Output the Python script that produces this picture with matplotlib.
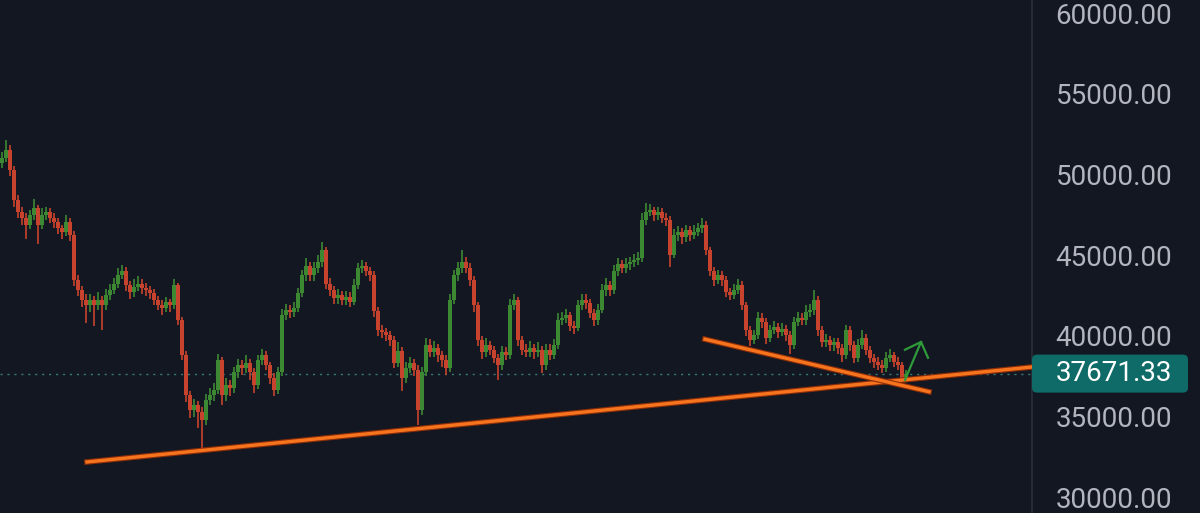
# BTC 4h chart with trendlines, dark theme
import matplotlib.pyplot as plt
import matplotlib.patheffects as pe
from matplotlib.patches import FancyBboxPatch

# candle data (open of each candle = previous close)
first_open = 50700
closes = [
    51000, 51500, 50300, 48400, 47700, 47300, 46900, 47500, 47900, 46900,
    47500, 47700, 47300, 47050, 46700, 46450, 47050, 46250, 43450, 42850,
    42250, 41900, 42250, 41900, 42250, 41900, 42550, 42850, 43250, 43750,
    44050, 43150, 42700, 43050, 43250, 42950, 42850, 42650, 42250, 41900,
    41750, 42100, 41900, 43150, 41000, 38800, 36350, 35400, 35700, 35300,
    34800, 36050, 36350, 36650, 38500, 36350, 36950, 36800, 37750, 38200,
    38000, 38350, 37750, 36950, 38500, 38800, 38200, 37400, 36650, 37750,
    41300, 41600, 41500, 41750, 42650, 43750, 44350, 43750, 44200, 44600,
    45300, 43250, 42850, 42350, 42550, 42250, 42400, 42100, 43150, 44200,
    44350, 44050, 43750, 41550, 40350, 40250, 40050, 39750, 38350, 39100,
    37400, 38000, 38350, 37900, 35400, 37750, 39450, 39000, 39250, 38800,
    38500, 38000, 42250, 43750, 44200, 44600, 44200, 43450, 41900, 39750,
    39000, 39450, 39150, 38650, 38200, 39000, 38850, 41900, 42250, 39750,
    39150, 39000, 39250, 39000, 39150, 38200, 39150, 38850, 39450, 41000,
    41100, 41300, 40650, 40500, 41900, 42250, 42050, 41450, 41000, 41600,
    42850, 43150, 42850, 44000, 44450, 44200, 44450, 44600, 44700, 44850,
    47200, 47700, 47800, 47500, 47650, 47300, 47200, 45000, 46250, 46450,
    46100, 46550, 46250, 46450, 46700, 46900, 45300, 44000, 43450, 43750,
    43450, 42700, 42550, 42850, 43150, 41900, 40350, 39750, 40050, 41100,
    40850, 39850, 40350, 40550, 40250, 40450, 40050, 39450, 40850, 41100,
    41000, 41500, 41600, 42250, 40350, 39600, 39750, 39450, 39600, 39250,
    38800, 40350, 39450, 38650, 39450, 39900, 39150, 38650, 38400, 38200,
    38000, 38650, 38800, 38400, 38200, 37400, 37671.33]
highs = [
    51400, 52150, 51800, 50500, 48700, 48000, 47600, 47800, 48500, 48100,
    47900, 48000, 47900, 47600, 47300, 46900, 47500, 47300, 46500, 43800,
    43100, 42600, 42600, 42500, 42700, 42500, 42900, 43200, 43600, 44200,
    44400, 44300, 43400, 43500, 43700, 43500, 43300, 43100, 42900, 42500,
    42200, 42400, 42300, 43500, 43300, 41200, 39100, 36600, 36100, 36000,
    35600, 36400, 36800, 37100, 38900, 38700, 37400, 37300, 38100, 38600,
    38500, 38800, 38600, 38000, 38800, 39200, 39100, 38400, 37700, 38100,
    41700, 42000, 41900, 42100, 43000, 44100, 44800, 44600, 44600, 45000,
    45800, 45500, 43600, 43100, 42900, 42800, 42800, 42700, 43500, 44500,
    44700, 44600, 44300, 44000, 41800, 40700, 40500, 40300, 40000, 39600,
    39300, 38400, 38700, 38600, 38200, 38100, 39900, 39800, 39700, 39500,
    39100, 38800, 42600, 44100, 44600, 45300, 44900, 44500, 43700, 42100,
    40000, 39900, 39700, 39400, 38900, 39400, 39300, 42300, 42600, 42400,
    40000, 39500, 39700, 39500, 39600, 39400, 39500, 39500, 39800, 41400,
    41500, 41700, 41500, 40900, 42200, 42600, 42600, 42300, 41700, 42000,
    43200, 43600, 43400, 44400, 44800, 44700, 44800, 44900, 45100, 45200,
    47600, 48250, 48200, 48000, 48000, 47900, 47600, 47400, 46600, 46800,
    46700, 46900, 46800, 46900, 47000, 47300, 47100, 45500, 44300, 44100,
    44000, 43700, 43000, 43200, 43500, 43400, 42100, 40600, 40400, 41500,
    41400, 41100, 40700, 40900, 40800, 40800, 40700, 40300, 41200, 41500,
    41400, 41900, 42000, 42850, 42500, 40600, 40100, 40000, 39900, 39900,
    39500, 40700, 40600, 39700, 39800, 40400, 40100, 39400, 38900, 38700,
    38500, 39000, 39200, 39000, 38700, 38400, 37900]
lows = [
    50400, 50800, 49900, 48000, 47300, 46900, 46000, 46600, 47200, 45700,
    46600, 47200, 47000, 46700, 46300, 46000, 46200, 45900, 43100, 42500,
    41800, 40800, 41500, 40600, 41600, 40400, 41600, 42200, 42600, 43000,
    43500, 42800, 42300, 42400, 42800, 42600, 42500, 42300, 41900, 41600,
    41300, 41500, 41500, 41700, 40700, 38500, 35900, 34900, 35000, 34300,
    33000, 34500, 35700, 36000, 36400, 35700, 36000, 36300, 36500, 37400,
    37600, 37700, 37300, 36500, 36700, 38200, 37900, 37000, 36300, 36400,
    37500, 41000, 41100, 41200, 41500, 42400, 43400, 43400, 43400, 43900,
    44300, 42900, 42500, 42000, 42000, 41900, 41900, 41800, 41900, 42900,
    43900, 43700, 43400, 41200, 40000, 39900, 39700, 39400, 38000, 38100,
    36600, 37100, 37700, 37500, 34500, 35100, 37500, 38700, 38700, 38400,
    38100, 37600, 37800, 42000, 43400, 43900, 43900, 43100, 41500, 39400,
    38600, 38700, 38800, 38300, 37300, 37900, 38500, 38600, 41600, 39400,
    38800, 38700, 38700, 38600, 38700, 37700, 37900, 38500, 38600, 39200,
    40700, 40800, 40300, 40100, 40300, 41600, 41700, 41100, 40600, 40700,
    41400, 42500, 42500, 42600, 43700, 43900, 43900, 44100, 44300, 44400,
    44600, 46900, 47400, 47100, 47200, 47000, 46800, 44300, 44800, 45900,
    45700, 45800, 45900, 46000, 46200, 46400, 45000, 43700, 43100, 43200,
    43100, 42400, 42200, 42300, 42600, 41600, 40000, 39400, 39500, 39800,
    40500, 39500, 39600, 40100, 39900, 40000, 39700, 38900, 39200, 40600,
    40700, 40700, 41200, 41300, 40000, 39300, 39300, 39100, 39100, 38900,
    38400, 38600, 39100, 38300, 38400, 39200, 38800, 38300, 38000, 37900,
    37700, 37800, 38400, 38100, 37900, 37200, 37200]

last_price = 37671.33
yticks = [30000, 35000, 40000, 45000, 50000, 55000, 60000]

# trendlines (candle index, price)
trend1_x = [21.25, 257.5]
trend1_y = [32200, 38080]
trend2_x = [175.75, 231.75]
trend2_y = [39800, 36550]
# hand drawn arrow: shaft + two head strokes
arrow_x = [225.75, 229.75]
arrow_y = [37275, 39630]
head_x = [225.75, 229.75, 231.5]
head_y = [39150, 39630, 38650]

bg = '#131722'
up_col = '#3d8833'
down_col = '#c8432d'
orange = '#f7741f'

plt.rcParams['font.family'] = ['Roboto', 'DejaVu Sans']

fig = plt.figure(figsize=(12, 5.13), dpi=100, facecolor=bg)
ax = fig.add_axes([0, 0, 1032 / 1200, 1])
ax.set_facecolor(bg)

opens = [first_open] + closes[:-1]
xs = list(range(len(closes)))
cols = [up_col if c >= o else down_col for o, c in zip(opens, closes)]
ax.vlines(xs, lows, highs, colors=cols, lw=1.2, zorder=2)
ax.bar(xs, [abs(c - o) for o, c in zip(opens, closes)],
       bottom=[min(o, c) for o, c in zip(opens, closes)],
       width=0.85, color=cols, lw=0, zorder=2)

# last price dotted line
ax.axhline(last_price, color='#3a7a76', lw=1, ls=(0, (1.5, 3.5)), zorder=1)

stroke = [pe.Stroke(linewidth=4.0, foreground='#8e2e08'), pe.Normal()]
ax.plot(trend1_x, trend1_y, color=orange, lw=2.4, path_effects=stroke, zorder=4)
ax.plot(trend2_x, trend2_y, color=orange, lw=2.4, path_effects=stroke, zorder=4)

ax.plot(arrow_x, arrow_y, color='#2e9a3a', lw=1.6, zorder=5)
ax.plot(head_x, head_y, color='#2e9a3a', lw=1.6, zorder=5)

ax.set_xlim(-0.5, 257.5)
ax.set_ylim(29040, 60805)
ax.set_xticks([])
ax.set_yticks(yticks)
ax.set_yticklabels([f'{t:.2f}' for t in yticks])
ax.yaxis.tick_right()
ax.tick_params(axis='y', length=0, pad=17, labelsize=20, labelcolor='#b2b5be')
for s in ['top', 'left', 'bottom']:
    ax.spines[s].set_visible(False)
ax.spines['right'].set_color('#2a2e39')
ax.spines['right'].set_linewidth(1.2)

# price label box on the scale
y_px = ax.transData.transform((0, last_price))[1]
y_in = y_px / fig.dpi
box = FancyBboxPatch((10.32, y_in - 0.19), 1.56, 0.38,
                     boxstyle='round,pad=0,rounding_size=0.05',
                     transform=fig.dpi_scale_trans, fc='#0e6b67', ec='none', zorder=3)
fig.patches.append(box)
fig.text(10.56, y_in, f'{last_price:.2f}', transform=fig.dpi_scale_trans,
         color='white', fontsize=20, va='center', ha='left', zorder=4)

fig.savefig('out.png', dpi=100, facecolor=bg)
